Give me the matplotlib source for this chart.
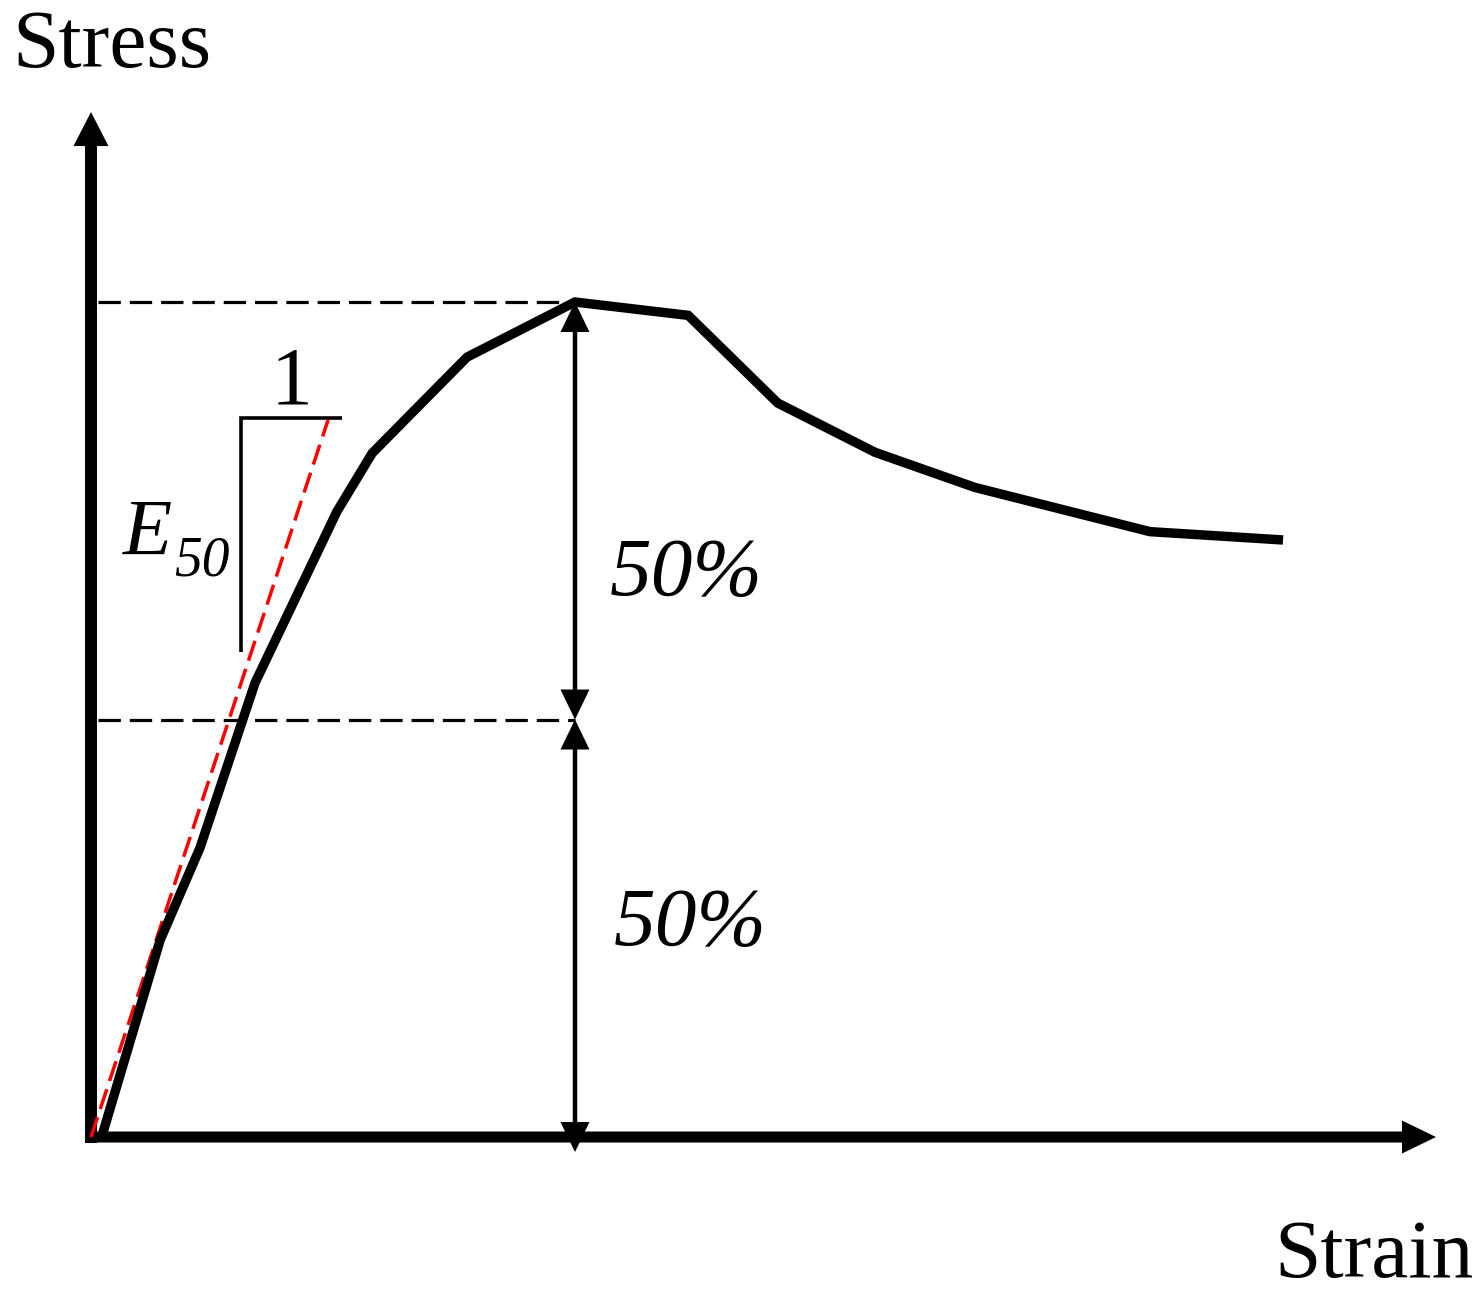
import matplotlib
matplotlib.use("Agg")
import matplotlib.pyplot as plt
from matplotlib.patches import FancyArrow

# ---------------- data (normalised strain / stress) ----------------
strain = [0.022, 0.143, 0.225, 0.339, 0.508, 0.581, 0.777, 1.000,
          1.234, 1.419, 1.620, 1.826, 2.188, 2.463]
stress = [0.000, 0.236, 0.346, 0.544, 0.749, 0.819, 0.934, 1.000,
          0.984, 0.879, 0.820, 0.778, 0.725, 0.715]

peak_strain = 1.0
peak_stress = 1.0
half_stress = 0.5
lower_arrow_end = -0.018

secant_x = [0.0, 0.490]          # E50 secant line
secant_y = [0.0, 0.859]

tri_x = [0.310, 0.310, 0.519]    # slope triangle
tri_y = [0.581, 0.861, 0.861]

dash_start = 0.0145

xlim = (-0.188, 2.872)
ylim = (-0.1916, 1.3617)
yaxis_top = 1.2275
xaxis_end = 2.779

labels = {"x": "Strain", "y": "Stress", "pct": "50%", "one": "1"}

# ---------------- figure ----------------
W, H, DPI = 1481, 1297, 100
fig = plt.figure(figsize=(W / DPI, H / DPI), dpi=DPI)
ax = fig.add_axes([0, 0, 1, 1])
ax.set_xlim(*xlim)
ax.set_ylim(*ylim)
ax.axis("off")

px_x = (xlim[1] - xlim[0]) / W
px_y = (ylim[1] - ylim[0]) / H

serif = ["Liberation Serif", "DejaVu Serif"]

# axes arrows
ax.add_patch(FancyArrow(0, -6 * px_y, 0, yaxis_top + 6 * px_y, width=12 * px_x,
                        head_width=35 * px_x, head_length=34 * px_y,
                        length_includes_head=True, color="black", lw=0))
ax.add_patch(FancyArrow(-6 * px_x, 0, xaxis_end + 6 * px_x, 0, width=11 * px_y,
                        head_width=33 * px_y, head_length=34 * px_x,
                        length_includes_head=True, color="black", lw=0))

# dashed reference lines
for lvl in (peak_stress, half_stress):
    ax.plot([dash_start, peak_strain], [lvl, lvl], color="black", lw=2.3,
            linestyle=(0, (7.0, 2.8)), dash_capstyle="butt")

# double arrows
head_len = 30 * px_y
def double_arrow(x, y0, y1):
    ax.plot([x, x], [y0 + head_len * 0.5, y1 - head_len * 0.5], color="black",
            lw=3.2, solid_capstyle="butt")
    for tip, sgn in ((y0, -1), (y1, 1)):
        ax.add_patch(FancyArrow(x, tip - sgn * head_len, 0, sgn * head_len,
                                width=1e-6, head_width=29 * px_x,
                                head_length=head_len,
                                length_includes_head=True, color="black", lw=0))

double_arrow(peak_strain, half_stress, peak_stress)
double_arrow(peak_strain, lower_arrow_end, half_stress)

# secant (E50)
ax.plot(secant_x, secant_y, color="#ff0000", lw=2.5, linestyle=(0, (6.0, 2.5)),
        dash_capstyle="butt", zorder=4)

# stress-strain curve
ax.plot(strain, stress, color="black", lw=6.8, solid_joinstyle="miter",
        solid_capstyle="butt", zorder=5)

# slope triangle
ax.plot(tri_x, tri_y, color="black", lw=2.6, solid_joinstyle="miter",
        solid_capstyle="butt")

# texts
ax.text(0.415, 0.879, labels["one"], fontsize=60, family=serif,
        ha="center", va="baseline")
ax.text(0.066, 0.697, "E", fontsize=58, family=serif, style="italic",
        ha="left", va="baseline")
ax.text(0.172, 0.673, "50", fontsize=40, family=serif, style="italic",
        ha="left", va="baseline")
ax.text(1.072, 0.649, labels["pct"], fontsize=60, family=serif, style="italic",
        ha="left", va="baseline")
ax.text(1.079, 0.230, labels["pct"], fontsize=60, family=serif, style="italic",
        ha="left", va="baseline")

fig.text(12 / W, 1 - 67 / H, labels["y"], fontsize=60, family=serif,
         ha="left", va="baseline")
fig.text(1474 / W, 1 - 1277 / H, labels["x"], fontsize=60, family=serif,
         ha="right", va="baseline")

fig.savefig("out.png", dpi=DPI, facecolor="white")
